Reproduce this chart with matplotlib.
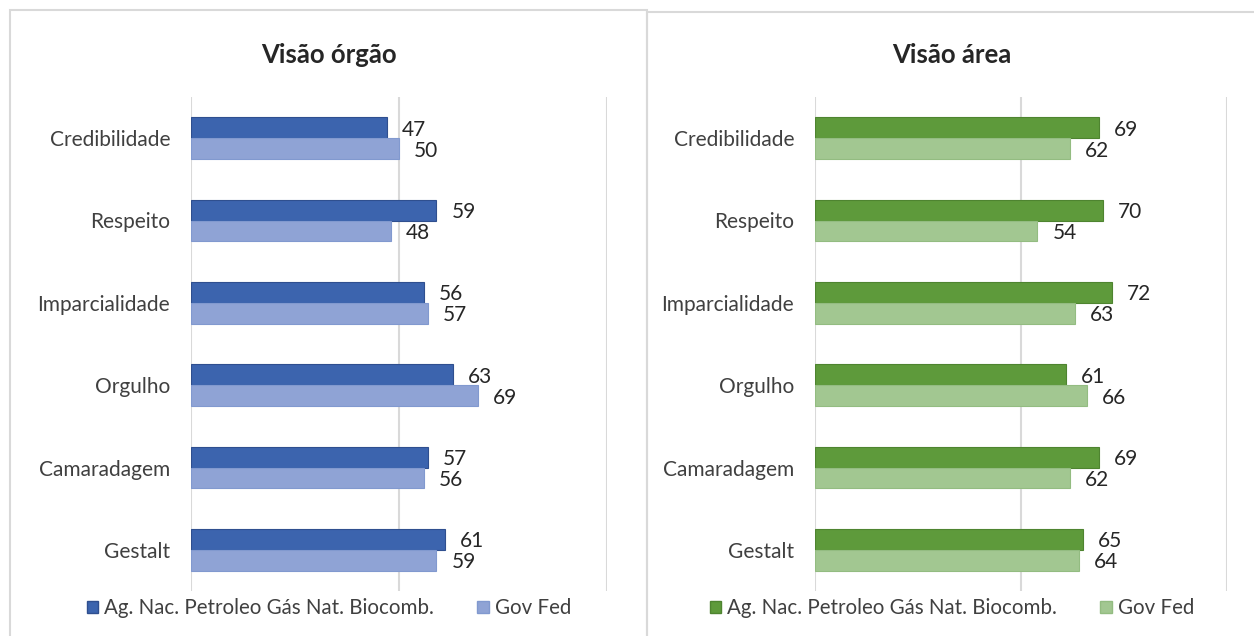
import matplotlib
matplotlib.use("Agg")
import matplotlib.pyplot as plt
from matplotlib.patches import Rectangle, Patch
import numpy as np

plt.rcParams['font.family'] = ['Lato', 'DejaVu Sans']

categorias = ["Credibilidade", "Respeito", "Imparcialidade", "Orgulho", "Camaradagem", "Gestalt"]
series = ["Ag. Nac. Petroleo Gás Nat. Biocomb.", "Gov Fed"]

orgao_agencia = [47, 59, 56, 63, 57, 61]
orgao_gov = [50, 48, 57, 69, 56, 59]
area_agencia = [69, 70, 72, 61, 69, 65]
area_gov = [62, 54, 63, 66, 62, 64]

W, H = 1254, 636
fig = plt.figure(figsize=(W / 100, H / 100), dpi=100)

# moldura dos dois paineis
borda = "#D9D9D9"
fig.patches.append(Rectangle((10 / W, -0.1), 637 / W, 1 - 10 / H + 0.1, transform=fig.transFigure,
                             fill=False, edgecolor=borda, linewidth=1.5))
fig.patches.append(Rectangle((647 / W, -0.1), 0.5, 1 - 12 / H + 0.1, transform=fig.transFigure,
                             fill=False, edgecolor=borda, linewidth=1.5))


def painel(x0, x1, titulo, centro, v1, v2, cor1, cor2, borda1, borda2):
    ax = fig.add_axes([x0 / W, 45 / H, (x1 - x0) / W, 494 / H])
    y = np.arange(len(categorias))
    h = 0.255
    ax.barh(y - h / 2, v1, height=h, color=cor1, edgecolor=borda1, linewidth=0.8, zorder=3)
    ax.barh(y + h / 2, v2, height=h, color=cor2, edgecolor=borda2, linewidth=0.8, zorder=3)
    for yi, a, b in zip(y, v1, v2):
        ax.text(a + 3.6, yi - h / 2, str(a), va="center_baseline", ha="left", fontsize=15, color="#262626")
        ax.text(b + 3.6, yi + h / 2, str(b), va="center_baseline", ha="left", fontsize=15, color="#262626")
    ax.set_xlim(0, 100)
    ax.set_ylim(len(categorias) - 0.5, -0.5)
    ax.set_xticks([0, 50, 100])
    ax.xaxis.grid(True, color="#D9D9D9", linewidth=1.5, zorder=0)
    ax.set_xticklabels([])
    ax.tick_params(axis="x", length=0)
    ax.set_yticks(y)
    ax.set_yticklabels(categorias, fontsize=15, color="#404040")
    ax.tick_params(axis="y", length=0, pad=15)
    for s in ax.spines.values():
        s.set_visible(False)
    fig.text(centro / W, 1 - 55 / H, titulo, ha="center", va="center", fontsize=18.5,
             fontweight="bold", color="#262626")
    handles = [Patch(facecolor=cor1, edgecolor=borda1), Patch(facecolor=cor2, edgecolor=borda2)]
    fig.legend(handles, series, loc="center", bbox_to_anchor=(centro / W, 1 - 608 / H),
               ncol=2, frameon=False, fontsize=14.8, handlelength=0.55, handleheight=0.55,
               handletextpad=0.3, columnspacing=2.1, labelcolor="#404040")
    return ax


painel(191, 607, "Visão órgão", 329, orgao_agencia, orgao_gov,
       "#3C64AE", "#8FA3D5", "#2F4F8F", "#8199CF")
painel(815, 1227, "Visão área", 952, area_agencia, area_gov,
       "#5E9A3B", "#A2C791", "#4E8430", "#93BC81")

fig.savefig("out.png", dpi=100)
